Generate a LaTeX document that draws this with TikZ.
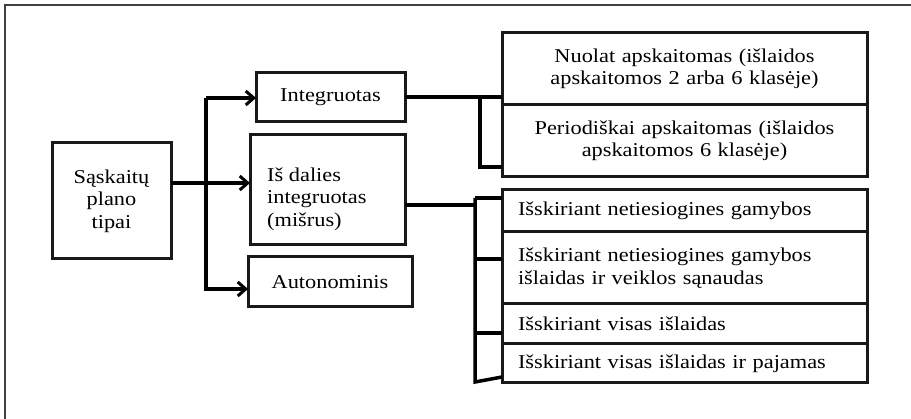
\documentclass[tikz,border=0pt]{standalone}
\usepackage{fontspec}
\newfontfamily\tnr[FakeStretch=1.14]{Liberation Serif}
\usetikzlibrary{arrows.meta}
\begin{document}
\begin{tikzpicture}[x=1pt,y=-1pt,
  box/.style={draw=black!90,line width=3pt,inner sep=0pt,outer sep=0pt,font=\tnr\fontsize{19.6pt}{22.5pt}\selectfont},
  lbox/.style={box,align=left,inner xsep=16pt},
  cbox/.style={box,align=center},
  txt/.style={inner sep=0pt,font=\tnr\fontsize{19.6pt}{22.5pt}\selectfont},
  conn/.style={line width=3.5pt,black},
  arr/.style={-{Straight Barb[length=8pt,width=14pt,line width=3pt]}}
]
\useasboundingbox (0,0) rectangle (911,419);
% frame
\draw[line width=1.2pt,black!75] (911,5) -- (5,5) -- (5,419);
% left column
\node[cbox,minimum width=119pt,minimum height=116pt] (sask) at (111.5,201) {Sąskaitų\\plano\\tipai};
\node[cbox,minimum width=149pt,minimum height=49pt] (integ) at (330.5,97.5) {Integruotas};
\node[box,minimum width=155pt,minimum height=110pt] (isdal) at (327.5,190) {};
\node[txt,align=left,anchor=west] (isdaltxt) at (267,199) {Iš dalies\\integruotas\\(mišrus)};
\node[cbox,minimum width=164pt,minimum height=50pt] (auto) at (330,282) {Autonominis};
% right top
\node[cbox,text width=345pt,minimum width=365pt,minimum height=72pt] (nuol) at (684.5,69) {Nuolat apskaitomas (išlaidos\\apskaitomos 2 arba 6 klasėje)};
\node[cbox,text width=345pt,minimum width=365pt,minimum height=72pt] (peri) at (684.5,141) {Periodiškai apskaitomas (išlaidos\\apskaitomos 6 klasėje)};
% right bottom
\node[lbox,text width=333pt,minimum width=365pt,minimum height=42pt] (l1) at (684.5,211) {Išskiriant netiesiogines gamybos};
\node[lbox,text width=333pt,minimum width=365pt,minimum height=72pt] (l2) at (684.5,268) {Išskiriant netiesiogines gamybos\\išlaidas ir veiklos sąnaudas};
\node[lbox,text width=333pt,minimum width=365pt,minimum height=40pt] (l3) at (684.5,324) {Išskiriant visas išlaidas};
\node[lbox,text width=333pt,minimum width=365pt,minimum height=39pt] (l4) at (684.5,363.5) {Išskiriant visas išlaidas ir pajamas};
% connectors left
\coordinate (vt) at (206,98);
\coordinate (vb) at (206,289);
\draw[conn,arr] (sask.east |- 0,183) -- (isdal.west |- 0,183);
\draw[conn,arr] (vt) -- (integ.west |- vt);
\draw[conn,arr] (vt) -- (vb) -- (auto.west |- vb);
% connectors right top
\coordinate (b1) at (480,97);
\coordinate (b1b) at (480,167);
\draw[conn] (integ.east |- b1) -- (nuol.west |- b1);
\draw[conn] (b1) -- (b1b) -- (peri.west |- b1b);
% connectors right bottom
\coordinate (b2) at (475,205);
\coordinate (b2t) at (475,198);
\coordinate (b2b) at (475,382);
\draw[conn] (isdal.east |- b2) -- (b2);
\draw[conn] (b2t) -- (l1.west |- b2t);
\draw[conn] (b2t) -- (b2b) -- (l4.west |- 0,377);
\draw[conn] (475,259) -- (l2.west |- 0,259);
\draw[conn] (475,333) -- (l3.west |- 0,333);
\end{tikzpicture}
\end{document}
